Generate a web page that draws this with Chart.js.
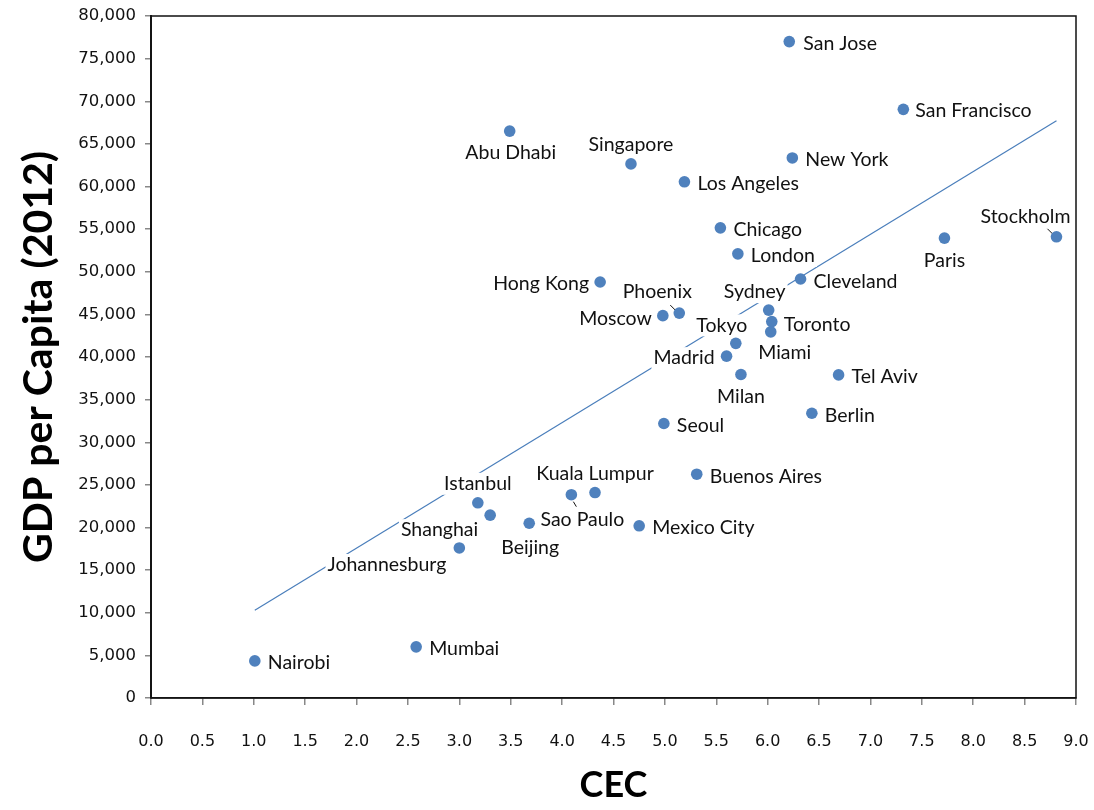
<!DOCTYPE html>
<html>
<head>
<meta charset="utf-8">
<script src="https://cdn.jsdelivr.net/npm/chart.js@4.4.0/dist/chart.umd.min.js"></script>
<style>
  html, body { margin: 0; padding: 0; background: #fff; }
  #wrap { width: 1094px; height: 810px; }
</style>
</head>
<body>
<div id="wrap"><canvas id="chart" width="1094" height="810"></canvas></div>
<script>
// data
const cities = ['San Jose', 'San Francisco', 'Abu Dhabi', 'Singapore', 'New York', 'Los Angeles',
  'Chicago', 'London', 'Stockholm', 'Paris', 'Hong Kong', 'Cleveland', 'Sydney', 'Phoenix',
  'Moscow', 'Toronto', 'Miami', 'Tokyo', 'Madrid', 'Milan', 'Tel Aviv', 'Berlin', 'Seoul',
  'Buenos Aires', 'Kuala Lumpur', 'Sao Paulo', 'Istanbul', 'Shanghai', 'Beijing',
  'Mexico City', 'Johannesburg', 'Mumbai', 'Nairobi'];
const cec = [6.21, 7.32, 3.49, 4.67, 6.24, 5.19, 5.54, 5.71, 8.81, 7.72, 4.37, 6.32, 6.01, 5.14,
  4.98, 6.04, 6.03, 5.69, 5.60, 5.74, 6.69, 6.43, 4.99, 5.31, 4.32, 4.09, 3.18, 3.30, 3.68,
  4.75, 3.00, 2.58, 1.01];
const gdp = [77000, 69050, 66500, 62650, 63350, 60550, 55150, 52100, 54100, 53950, 48800, 49150,
  45500, 45150, 44850, 44150, 42950, 41600, 40100, 37950, 37900, 33400, 32200, 26250, 24100,
  23850, 22900, 21450, 20500, 20200, 17600, 6000, 4350];

// linear trend line end points
const trendCec = [1.01, 8.81];
const trendGdp = [10300, 67700];

// label placement: offset from dot, alignment, optional leader line
const placement = {
  'San Jose': [14, 2, 'left'], 'San Francisco': [12, 1, 'left'], 'Abu Dhabi': [1, 22, 'center'],
  'Singapore': [0, -19, 'center'], 'New York': [13, 2, 'left'], 'Los Angeles': [13, 2, 'left'],
  'Chicago': [13, 2, 'left'], 'London': [13, 2, 'left'],
  'Stockholm': [-31, -20, 'center', [-9, -8, -3, -2]], 'Paris': [0, 23, 'center'],
  'Hong Kong': [-11, 2, 'right'], 'Cleveland': [13, 3, 'left'], 'Sydney': [-14, -18, 'center'],
  'Phoenix': [-22, -21, 'center', [-9, -8, -3, -2]], 'Moscow': [-11, 3, 'right'],
  'Toronto': [12, 3, 'left'], 'Miami': [14, 21, 'center'], 'Tokyo': [-14, -18, 'center'],
  'Madrid': [-12, 2, 'right'], 'Milan': [0, 22, 'center'], 'Tel Aviv': [13, 2, 'left'],
  'Berlin': [13, 2, 'left'], 'Seoul': [13, 2, 'left'], 'Buenos Aires': [13, 2, 'left'],
  'Kuala Lumpur': [0, -19, 'center'], 'Sao Paulo': [11, 25, 'center', [2, 7, 5, 12]],
  'Istanbul': [0, -19, 'center'], 'Shanghai': [-12, 15, 'right'], 'Beijing': [1, 24, 'center'],
  'Mexico City': [13, 2, 'left'], 'Johannesburg': [-13, 17, 'right'], 'Mumbai': [13, 2, 'left'],
  'Nairobi': [13, 2, 'left']
};

const LABEL_FONT = '19.5px Lato';

const cityLabels = {
  id: 'cityLabels',
  afterDatasetDraw(chart, args) {
    if (args.index !== 0) return; // draw labels right after the trend line
    const ctx = chart.ctx;
    const pts = chart.getDatasetMeta(1).data;
    ctx.save();
    ctx.font = LABEL_FONT;
    ctx.textBaseline = 'middle';
    cities.forEach(function (name, i) {
      const p = pts[i];
      const pl = placement[name];
      const w = ctx.measureText(name).width;
      let x = p.x + pl[0];
      const y = p.y + pl[1];
      let left = x;
      if (pl[2] === 'center') left = x - w / 2;
      if (pl[2] === 'right') left = x - w;
      ctx.fillStyle = '#fff';
      ctx.fillRect(left - 2, y - 11, w + 4, 22);
      ctx.fillStyle = '#111';
      ctx.textAlign = pl[2];
      ctx.fillText(name, x, y);
      if (pl[3]) {
        ctx.strokeStyle = '#111';
        ctx.lineWidth = 1;
        ctx.beginPath();
        ctx.moveTo(p.x + pl[3][0], p.y + pl[3][1]);
        ctx.lineTo(p.x + pl[3][2], p.y + pl[3][3]);
        ctx.stroke();
      }
    });
    ctx.restore();
  }
};

const plotFrame = {
  id: 'plotFrame',
  afterDraw(chart) {
    const a = chart.chartArea;
    const ctx = chart.ctx;
    ctx.save();
    ctx.strokeStyle = '#111';
    ctx.lineWidth = 1.5;
    ctx.strokeRect(a.left, a.top, a.right - a.left, a.bottom - a.top);
    ctx.restore();
  }
};

new Chart(document.getElementById('chart').getContext('2d'), {
  data: {
    datasets: [{
      type: 'line',
      data: trendCec.map(function (v, i) { return { x: v, y: trendGdp[i] }; }),
      borderColor: '#4a7ebb',
      borderWidth: 1.2,
      pointRadius: 0,
      order: 2
    }, {
      type: 'scatter',
      data: cec.map(function (v, i) { return { x: v, y: gdp[i] }; }),
      backgroundColor: '#4f81bd',
      borderColor: '#4f81bd',
      pointRadius: 5.8,
      borderWidth: 0,
      order: 1
    }]
  },
  options: {
    responsive: false,
    animation: false,
    layout: { padding: { left: 0, top: 16, right: 18, bottom: 0 } },
    plugins: { legend: { display: false }, tooltip: { enabled: false } },
    scales: {
      x: {
        type: 'linear',
        min: 0, max: 9,
        afterFit: function (s) { s.height = 112; s.paddingLeft = 0; s.paddingRight = 0; },
        grid: { drawOnChartArea: false, color: '#888', tickLength: 7, lineWidth: 1.5 },
        border: { color: '#222', width: 1.5 },
        ticks: {
          stepSize: 0.5,
          padding: 27,
          maxRotation: 0,
          color: '#111',
          font: { family: 'DejaVu Sans', size: 16 },
          callback: function (v) { return v.toFixed(1); }
        },
        title: {
          display: true, text: 'CEC', color: '#000',
          font: { family: 'Lato', size: 36, weight: 'bold' },
          padding: { top: 0, bottom: 3 }
        }
      },
      y: {
        min: 0, max: 80000,
        afterFit: function (s) { s.width = 151; s.paddingTop = 0; s.paddingBottom = 0; },
        grid: { drawOnChartArea: false, color: '#888', tickLength: 6, lineWidth: 1.5 },
        border: { color: '#222', width: 2 },
        ticks: {
          stepSize: 5000,
          padding: 9,
          color: '#111',
          font: { family: 'DejaVu Sans', size: 16.5 },
          callback: function (v) { return v.toLocaleString('en-US'); }
        },
        title: {
          display: true, text: 'GDP per Capita (2012)', color: '#000',
          font: { family: 'Lato', size: 41, weight: 'bold' },
          padding: { top: 14, bottom: 0 }
        }
      }
    }
  },
  plugins: [cityLabels, plotFrame]
});
</script>
</body>
</html>
